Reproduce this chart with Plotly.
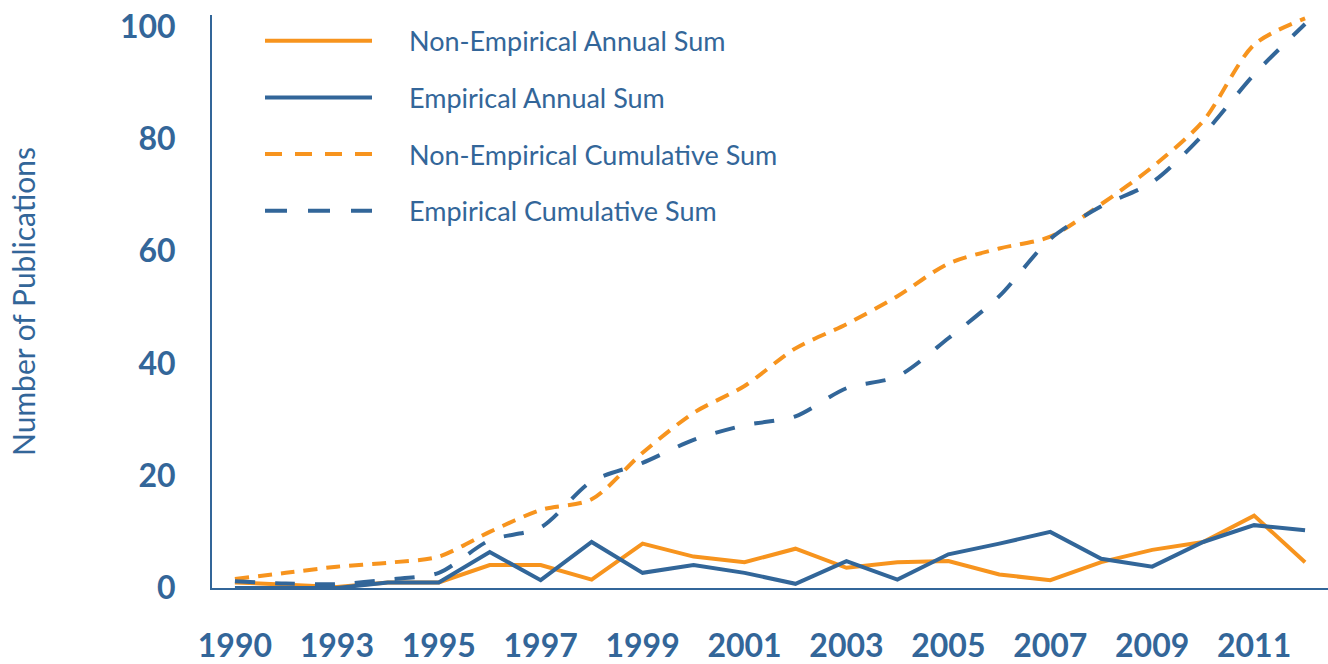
import plotly.graph_objects as go

# ---- data ----
categories = ["1990", "1992", "1993", "1994", "1995", "1996", "1997", "1998",
              "1999", "2000", "2001", "2002", "2003", "2004", "2005", "2006",
              "2007", "2008", "2009", "2010", "2011", "2012"]
tick_labels = categories[::2]

series_names = ["Non-Empirical Annual Sum", "Empirical Annual Sum",
                "Non-Empirical Cumulative Sum", "Empirical Cumulative Sum"]

non_emp_annual = [1, 0.6, 0.2, 1, 1, 4.1, 4.1, 1.5, 7.9, 5.6, 4.6, 7.0, 3.6,
                  4.6, 4.8, 2.4, 1.4, 4.6, 6.8, 8.2, 12.9, 4.6]
emp_annual = [0, 0, 0, 1, 1, 6.4, 1.4, 8.2, 2.7, 4.1, 2.7, 0.75, 4.8, 1.5,
              6.0, 7.9, 10.0, 5.2, 3.8, 8.2, 11.2, 10.3]
non_emp_cum = [1.6, 2.7, 3.8, 4.5, 5.6, 10.0, 13.9, 15.8, 24.1, 31.2, 36.0,
               42.7, 47.0, 52.0, 57.8, 60.5, 62.6, 68.4, 75.0, 83.2, 96.8, 101.5]
emp_cum = [1.2, 0.8, 0.7, 1.5, 2.7, 8.5, 10.8, 19.0, 22.3, 26.4, 29.0, 30.6,
           35.6, 37.7, 44.5, 52.0, 62.2, 68.0, 72.3, 80.8, 91.5, 100.5]

y_title = "Number of Publications"

# ---- styles ----
ORANGE = "#F7941E"
BLUE = "#326699"
TEXT = "#336699"
LW = 4
styles = [
    dict(color=ORANGE, dash="solid", shape="linear", leg_dash="solid"),
    dict(color=BLUE, dash="solid", shape="linear", leg_dash="solid"),
    dict(color=ORANGE, dash="14px,9px", shape="spline", leg_dash="17px,13px"),
    dict(color=BLUE, dash="20px,20px", shape="spline", leg_dash="22px,21px"),
]
values = [non_emp_annual, emp_annual, non_emp_cum, emp_cum]

fig = go.Figure()
for name, vals, st in zip(series_names, values, styles):
    line = dict(color=st["color"], width=LW, dash=st["dash"], shape=st["shape"])
    if st["shape"] == "spline":
        line["smoothing"] = 0.8
    fig.add_trace(go.Scatter(x=categories, y=vals, mode="lines", name=name,
                             line=line, showlegend=False))

# ---- plot-area geometry (pixels) ----
W, H = 1328, 664
L, R, T, B = 212, 0, 15, 72
pw, ph = W - L - R, H - T - B

def px_to_paper(px, py):
    return (px - L) / pw, (H - B - py) / ph

# ---- legend drawn inside the plot, top-left ----
shapes = []
annotations = []
for k, (name, st) in enumerate(zip(series_names, styles)):
    py = 41 + 57 * k
    x0, y0 = px_to_paper(265, py)
    x1, _ = px_to_paper(372, py)
    xt, _ = px_to_paper(407, py)
    shapes.append(dict(type="line", xref="paper", yref="paper", x0=x0, x1=x1,
                       y0=y0, y1=y0,
                       line=dict(color=st["color"], width=LW, dash=st["leg_dash"])))
    annotations.append(dict(xref="paper", yref="paper", x=xt, y=y0, text=name,
                            showarrow=False, xanchor="left", yanchor="middle",
                            font=dict(family="Lato", size=27, color=TEXT)))

fig.update_layout(
    width=W, height=H,
    margin=dict(l=L, r=R, t=T, b=B, pad=0),
    paper_bgcolor="white", plot_bgcolor="white",
    showlegend=False,
    shapes=shapes, annotations=annotations,
    xaxis=dict(type="category", range=[-0.45, 21.45],
               tickvals=tick_labels, ticktext=tick_labels,
               showgrid=False, zeroline=False, showline=True,
               linecolor=BLUE, linewidth=2, ticks="",
               tickfont=dict(family="Lato", size=32, color=TEXT, weight="bold"),
               ticklabelstandoff=29),
    yaxis=dict(range=[0, 102.1], tickvals=[0, 20, 40, 60, 80, 100],
               showgrid=False, zeroline=False, showline=True,
               linecolor=BLUE, linewidth=2, ticks="",
               tickfont=dict(family="Lato", size=32, color=TEXT, weight="bold"),
               ticklabelstandoff=28,
               title=dict(text=y_title, standoff=75,
                          font=dict(family="Lato", size=30, color=TEXT))),
)

fig.write_html("out.html",
               config={"displayModeBar": False},
               post_script="document.body.style.margin='0';"
                           "document.body.style.padding='0';")
